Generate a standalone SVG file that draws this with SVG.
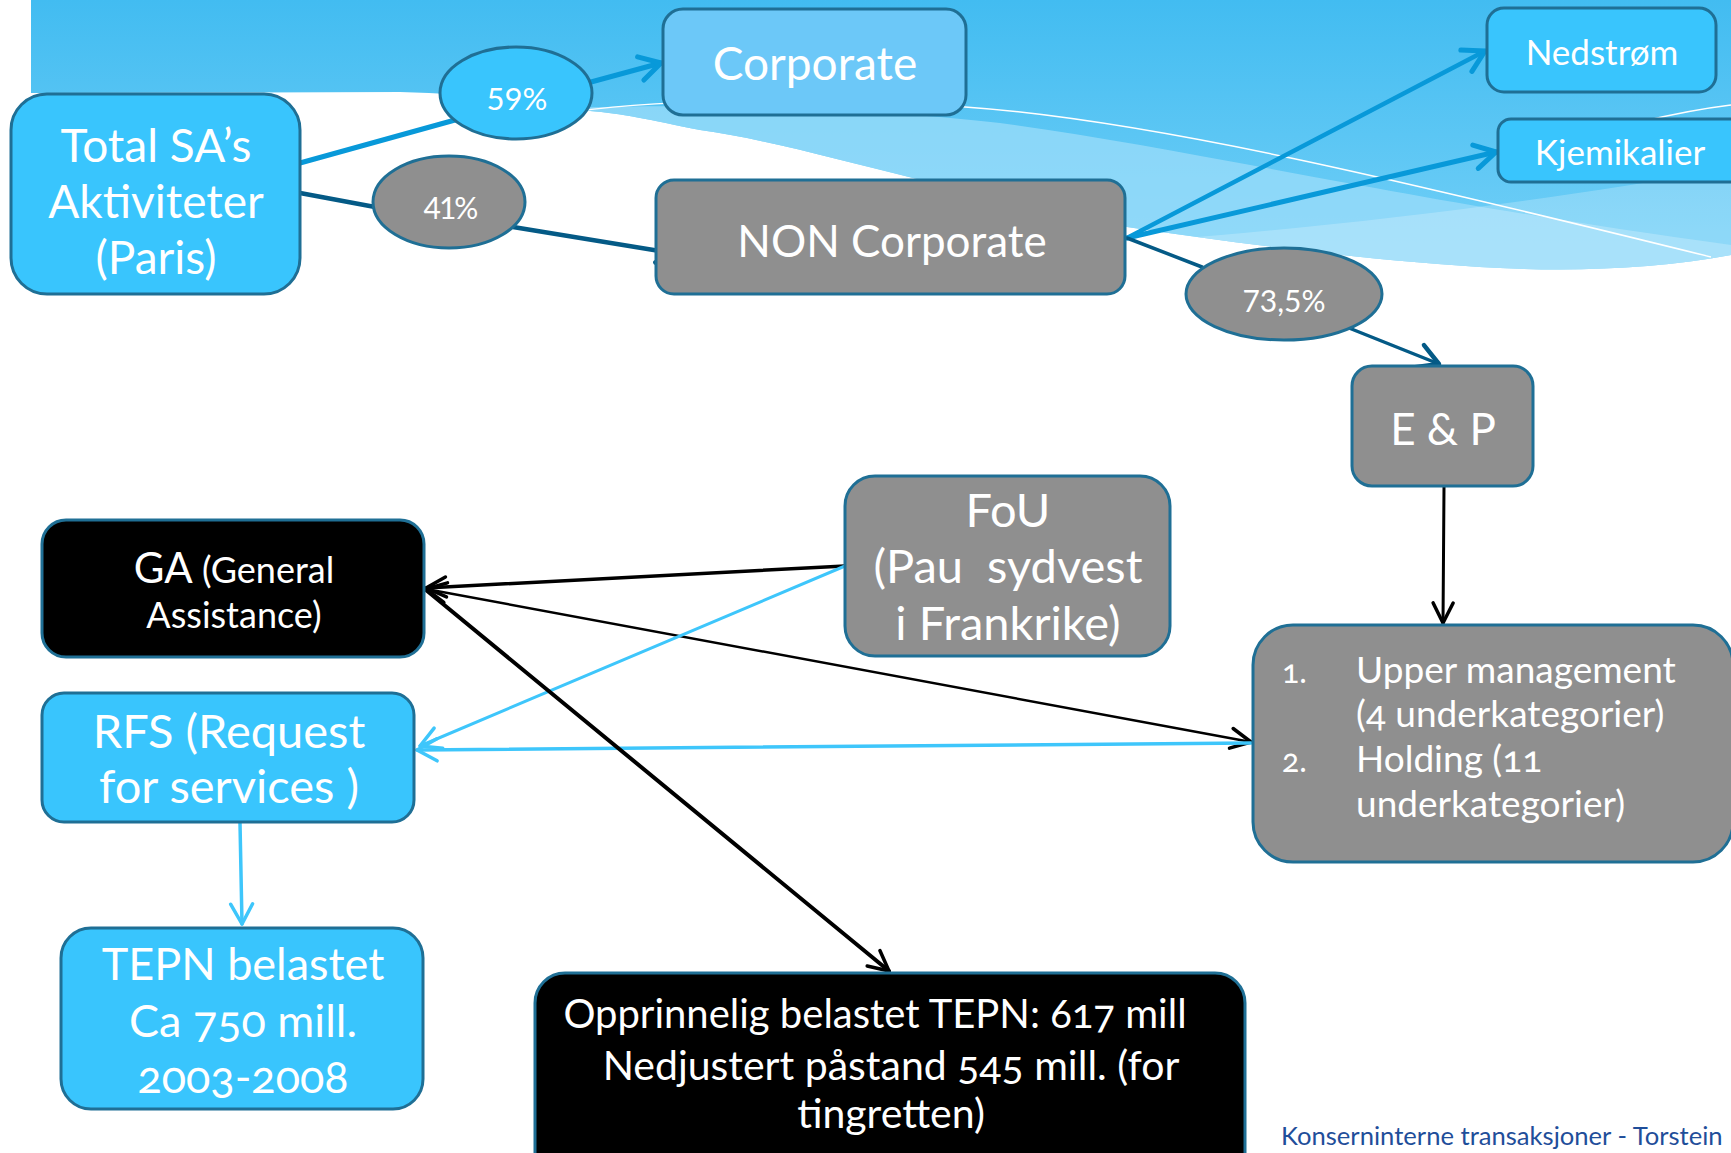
<svg xmlns="http://www.w3.org/2000/svg" width="1731" height="1153" viewBox="0 0 1731 1153">
<style>
.n{stroke:#1f6f95;stroke-width:3}
.cy{fill:#39c5fd}
.gr{fill:#8f8f8f}
.bk{fill:#000}
.t{font-family:Lato,"Open Sans","Liberation Sans",sans-serif;fill:#fff;text-anchor:middle}
.l{font-family:Lato,"Open Sans","Liberation Sans",sans-serif;fill:#fff}
.on{font-variant-numeric:oldstyle-nums}
.c{fill:none;stroke-linecap:round}
.mb{stroke:#0899d9;stroke-width:5}
.db{stroke:#045a86;stroke-width:4.5}
.lb{stroke:#3ec6fb;stroke-width:3.5}
.k3{stroke:#000;stroke-width:3}
.k4{stroke:#000;stroke-width:4}
</style>
<defs>
<linearGradient id="bg" x1="0" y1="0" x2="0" y2="270" gradientUnits="userSpaceOnUse">
<stop offset="0" stop-color="#42bcf1"/>
<stop offset="1" stop-color="#74d0f7"/>
</linearGradient>
<clipPath id="bgc"><path d="M31,0 H1731 V255 C1660,268 1580,272 1500,268 C1380,262 1250,245 1127,227 C1050,212 980,192 913,178 C840,160 760,138 700,130 C650,120 620,113 590,111 C530,100 470,94 400,92 L31,93 Z"/></clipPath>
<marker id="amb" markerUnits="userSpaceOnUse" markerWidth="40" markerHeight="40" viewBox="-30 -20 40 40" refX="0" refY="0" orient="auto" overflow="visible"><path d="M-21,-12 L0,0 L-21,12" fill="none" stroke="#0899d9" stroke-width="5" stroke-linecap="round" stroke-linejoin="round"/></marker>
<marker id="adb" markerUnits="userSpaceOnUse" markerWidth="40" markerHeight="40" viewBox="-30 -20 40 40" refX="0" refY="0" orient="auto" overflow="visible"><path d="M-21,-12 L0,0 L-21,12" fill="none" stroke="#045a86" stroke-width="4.5" stroke-linecap="round" stroke-linejoin="round"/></marker>
<marker id="alb" markerUnits="userSpaceOnUse" markerWidth="40" markerHeight="40" viewBox="-30 -20 40 40" refX="0" refY="0" orient="auto-start-reverse" overflow="visible"><path d="M-20,-11 L0,0 L-20,11" fill="none" stroke="#3ec6fb" stroke-width="3.5" stroke-linecap="round" stroke-linejoin="round"/></marker>
<marker id="ak" markerUnits="userSpaceOnUse" markerWidth="40" markerHeight="40" viewBox="-30 -20 40 40" refX="0" refY="0" orient="auto-start-reverse" overflow="visible"><path d="M-20,-10 L0,0 L-20,10" fill="none" stroke="#000" stroke-width="3.5" stroke-linecap="round" stroke-linejoin="round"/></marker>
</defs>

<g id="background">
<rect x="0" y="0" width="1731" height="1153" fill="#fff"/>
<g clip-path="url(#bgc)">
<rect x="31" y="0" width="1700" height="280" fill="url(#bg)"/>
<path d="M560,108 C750,102 900,112 1000,123 C1200,150 1400,200 1731,245 V290 H560 Z" fill="#9bdcfa" opacity="0.75"/>
<path d="M1000,250 C1200,240 1450,218 1731,168 V290 H1000 Z" fill="#fff" opacity="0.22"/>
</g>
<path d="M560,114 C640,100 800,96 965,107 C1150,120 1400,180 1711,257" fill="none" stroke="#fff" stroke-width="1.5"/>
<path d="M1640,122 Q1690,110 1731,105" fill="none" stroke="#fff" stroke-width="1.5"/>
</g>

<g id="connectors">
<line class="c mb" x1="300" y1="163" x2="455" y2="120"/>
<line class="c mb" x1="591" y1="82" x2="661" y2="63" marker-end="url(#amb)"/>
<line class="c db" x1="300" y1="193" x2="375" y2="207"/>
<line class="c db" x1="513" y1="227" x2="678" y2="254" marker-end="url(#adb)"/>
<line class="c mb" style="stroke-width:4.5" x1="1127" y1="238" x2="1485" y2="51" marker-end="url(#amb)"/>
<line class="c mb" x1="1127" y1="238" x2="1496" y2="152" marker-end="url(#amb)"/>
<line class="c db" style="stroke-width:3.5" x1="1127" y1="238" x2="1202" y2="267"/>
<line class="c db" style="stroke-width:3.5" x1="1349" y1="328" x2="1439" y2="364" marker-end="url(#adb)"/>
<line class="c k3" x1="1444" y1="487" x2="1443" y2="623" marker-end="url(#ak)"/>
<line class="c k3" style="stroke-width:3.5" x1="845" y1="566" x2="426" y2="588" marker-end="url(#ak)"/>
<line class="c k3" style="stroke-width:2.5" x1="426" y1="589" x2="1251" y2="742" marker-start="url(#ak)" marker-end="url(#ak)"/>
<line class="c lb" style="stroke-width:3" x1="845" y1="566" x2="420" y2="746" marker-end="url(#alb)"/>
<line class="c lb" x1="1251" y1="743" x2="417" y2="750" marker-end="url(#alb)"/>
<line class="c k4" x1="426" y1="590" x2="889" y2="971" marker-end="url(#ak)"/>
<line class="c lb" x1="240" y1="823" x2="242" y2="924" marker-end="url(#alb)"/>
</g>

<g id="node-total">
<rect class="n cy" x="11" y="94" width="289" height="200" rx="36"/>
<text class="t" font-size="46"><tspan x="156" y="162">Total SA’s</tspan><tspan x="156" y="218">Aktiviteter</tspan><tspan x="156" y="274">(Paris)</tspan></text>
</g>
<g id="node-59">
<ellipse class="n cy" cx="516" cy="93" rx="76" ry="46"/>
<text class="t" x="517" y="110" font-size="31">59%</text>
</g>
<g id="node-41">
<ellipse class="n gr" cx="449" cy="202" rx="76" ry="46"/>
<text class="t" x="450" y="219" font-size="30" letter-spacing="-2">41%</text>
</g>
<g id="node-corporate">
<rect class="n" fill="#6cc8f8" x="663" y="9" width="303" height="106" rx="20"/>
<text class="t" x="815" y="80" font-size="46">Corporate</text>
</g>
<g id="node-noncorporate">
<rect class="n gr" x="656" y="180" width="469" height="114" rx="18"/>
<text class="t" x="892" y="257" font-size="44">NON Corporate</text>
</g>
<g id="node-nedstrom">
<rect class="n cy" x="1487" y="8" width="229" height="84" rx="17"/>
<text class="t" x="1602" y="65" font-size="35">Nedstrøm</text>
</g>
<g id="node-kjemikalier">
<rect class="n cy" x="1498" y="119" width="260" height="63" rx="13"/>
<text class="t" x="1620" y="165" font-size="35">Kjemikalier</text>
</g>
<g id="node-735">
<ellipse class="n gr" cx="1284" cy="294" rx="98" ry="46"/>
<text class="t" x="1284" y="312" font-size="30">73,5%</text>
</g>
<g id="node-ep">
<rect class="n gr" x="1352" y="366" width="181" height="120" rx="20"/>
<text class="t" x="1443" y="445" font-size="44">E &amp; P</text>
</g>
<g id="node-fou">
<rect class="n gr" x="845" y="476" width="325" height="180" rx="30"/>
<text class="t" font-size="47" style="white-space:pre"><tspan x="1008" y="527">FoU</tspan><tspan x="1008" y="583">(Pau  sydvest</tspan><tspan x="1008" y="640">i Frankrike)</tspan></text>
</g>
<g id="node-upper">
<rect class="n gr" x="1253" y="625" width="480" height="237" rx="40"/>
<text class="l on" font-size="37"><tspan x="1282" y="683" font-size="32">1.</tspan><tspan x="1356" y="683">Upper management</tspan><tspan x="1356" y="727">(4 underkategorier)</tspan><tspan x="1282" y="772" font-size="32">2.</tspan><tspan x="1356" y="772">Holding (11</tspan><tspan x="1356" y="817">underkategorier)</tspan></text>
</g>
<g id="node-ga">
<rect class="n bk" x="42" y="520" width="382" height="137" rx="24"/>
<text class="t" font-size="36"><tspan x="234" y="583"><tspan font-size="42">GA</tspan> (General</tspan><tspan x="234" y="628">Assistance)</tspan></text>
</g>
<g id="node-rfs">
<rect class="n cy" x="42" y="693" width="372" height="129" rx="22"/>
<text class="t" font-size="47"><tspan x="229" y="748">RFS (Request</tspan><tspan x="229" y="803">for services )</tspan></text>
</g>
<g id="node-tepn">
<rect class="n cy" x="61" y="928" width="362" height="181" rx="30"/>
<text class="t on" font-size="45"><tspan x="243" y="980">TEPN belastet</tspan><tspan x="243" y="1037">Ca 750 mill.</tspan><tspan x="243" y="1093">2003-2008</tspan></text>
</g>
<g id="node-opprinnelig">
<rect class="n bk" x="535" y="973" width="710" height="210" rx="30"/>
<text class="t on" font-size="41"><tspan x="875" y="1028" font-size="40">Opprinnelig belastet TEPN: 617 mill</tspan><tspan x="891" y="1080">Nedjustert påstand 545 mill. (for</tspan><tspan x="891" y="1128">tingretten)</tspan></text>
</g>
<g id="footer">
<text x="1281" y="1145" font-family="Lato,'Open Sans','Liberation Sans',sans-serif" font-size="25.6" fill="#1f4e9a">Konserninterne transaksjoner - Torstein</text>
</g>
</svg>
